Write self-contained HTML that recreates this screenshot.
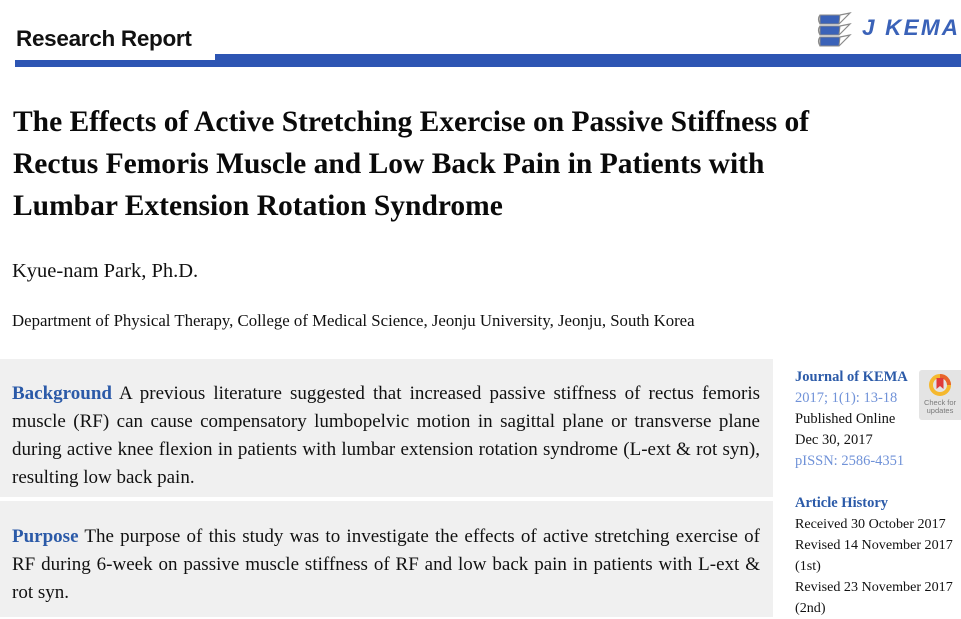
<!DOCTYPE html>
<html>
<head>
<meta charset="utf-8">
<style>
html,body{margin:0;padding:0;background:#fff;}
body{width:961px;height:617px;position:relative;overflow:hidden;font-family:"Liberation Serif",serif;color:#111;}
.abs{position:absolute;white-space:nowrap;}
.hdr{left:16px;top:26px;font-family:"Liberation Sans",sans-serif;font-weight:bold;font-size:22.5px;line-height:26px;color:#111;letter-spacing:-0.3px;}
.bar1{position:absolute;left:215px;top:54px;width:746px;height:13px;background:#2d55b3;}
.bar2{position:absolute;left:15px;top:60px;width:200px;height:7px;background:#2d55b3;}
.logo{left:862px;top:15px;font-family:"Liberation Sans",sans-serif;font-weight:bold;font-style:italic;font-size:22.5px;line-height:26px;color:#3a62b8;letter-spacing:2.2px;}
.title{position:absolute;left:13px;top:101px;font-weight:bold;font-size:29.5px;line-height:42px;white-space:nowrap;color:#0a0a0a;}
.author{left:12px;top:259px;font-size:20.5px;line-height:24px;}
.dept{left:12px;top:310px;font-size:16.8px;line-height:22px;}
.box{position:absolute;left:0;width:773px;background:#f0f0f0;}
.abst{position:absolute;left:12px;width:748px;font-size:19px;line-height:28.3px;}
.abst div{text-align:justify;text-align-last:justify;height:28.3px;}
.abst div.last{text-align-last:left;}
.kw{color:#2b5aa8;font-weight:bold;}
.side{position:absolute;left:795px;top:366.5px;font-size:14.5px;line-height:21px;white-space:nowrap;}
.side .h{color:#2b5aa8;font-weight:bold;}
.side .lb{color:#7092d8;}
.side .sm{font-size:14.1px;}
.badge{position:absolute;left:919px;top:370px;width:45px;height:50px;background:#e4e4e4;border-radius:3px;}
.badge .t{position:absolute;left:0;width:42px;text-align:center;font-family:"Liberation Sans",sans-serif;font-size:7.5px;line-height:8px;color:#7a7a7a;}
</style>
</head>
<body>

<div class="abs hdr">Research Report</div>
<div class="bar1"></div>
<div class="bar2"></div>

<svg style="position:absolute;left:817px;top:12px" width="40" height="38" viewBox="0 0 40 38">
  <g stroke="#8a8a8a" stroke-width="1" fill="#3a62b8">
    <path d="M3 3 h20 l-1 9 h-19 z"/>
    <path d="M3 14 h20 l-1 9 h-19 z"/>
    <path d="M3 25 h20 l-1 9 h-19 z"/>
  </g>
  <g stroke="#8a8a8a" stroke-width="1.2" fill="none">
    <path d="M3 3 q-3 4 0 9"/>
    <path d="M3 14 q-3 4 0 9"/>
    <path d="M3 25 q-3 4 0 9"/>
    <path d="M23 3 l10 -2 l-11 11"/>
    <path d="M23 14 l10 -2 l-11 11"/>
    <path d="M23 25 l10 -2 l-11 11"/>
  </g>
</svg>
<div class="abs logo">J KEMA</div>

<div class="title">The Effects of Active Stretching Exercise on Passive Stiffness of<br>Rectus Femoris Muscle and Low Back Pain in Patients with<br>Lumbar Extension Rotation Syndrome</div>

<div class="abs author">Kyue-nam Park, Ph.D.</div>
<div class="abs dept">Department of Physical Therapy, College of Medical Science, Jeonju University, Jeonju, South Korea</div>

<div class="box" style="top:359px;height:138px;"></div>
<div class="box" style="top:501px;height:116px;"></div>

<div class="abst" style="top:379.5px;">
  <div><span class="kw">Background</span> A previous literature suggested that increased passive stiffness of rectus femoris</div>
  <div>muscle (RF) can cause compensatory lumbopelvic motion in sagittal plane or transverse plane</div>
  <div>during active knee flexion in patients with lumbar extension rotation syndrome (L-ext &amp; rot syn),</div>
  <div class="last">resulting low back pain.</div>
</div>

<div class="abst" style="top:522.5px;">
  <div><span class="kw">Purpose</span> The purpose of this study was to investigate the effects of active stretching exercise of</div>
  <div>RF during 6-week on passive muscle stiffness of RF and low back pain in patients with L-ext &amp;</div>
  <div class="last">rot syn.</div>
</div>

<div class="side">
  <div class="h">Journal of KEMA</div>
  <div class="lb">2017; 1(1): 13-18</div>
  <div>Published Online</div>
  <div>Dec 30, 2017</div>
  <div class="lb">pISSN: 2586-4351</div>
  <div>&nbsp;</div>
  <div class="h">Article History</div>
  <div class="sm">Received 30 October 2017</div>
  <div class="sm">Revised 14 November 2017</div>
  <div class="sm">(1st)</div>
  <div class="sm">Revised 23 November 2017</div>
  <div class="sm">(2nd)</div>
</div>

<div class="badge">
  <svg style="position:absolute;left:9px;top:3px" width="24" height="24" viewBox="0 0 24 24">
    <circle cx="12" cy="12" r="9" fill="none" stroke="#f5b82e" stroke-width="4"/>
    <path d="M12 3 a9 9 0 0 1 9 9" fill="none" stroke="#e8642c" stroke-width="4"/>
    <path d="M8.5 5 h7 v11 l-3.5 -3 l-3.5 3 z" fill="#e03a3a"/>
  </svg>
  <div class="t" style="top:29px;">Check for</div>
  <div class="t" style="top:37px;">updates</div>
</div>

</body>
</html>
